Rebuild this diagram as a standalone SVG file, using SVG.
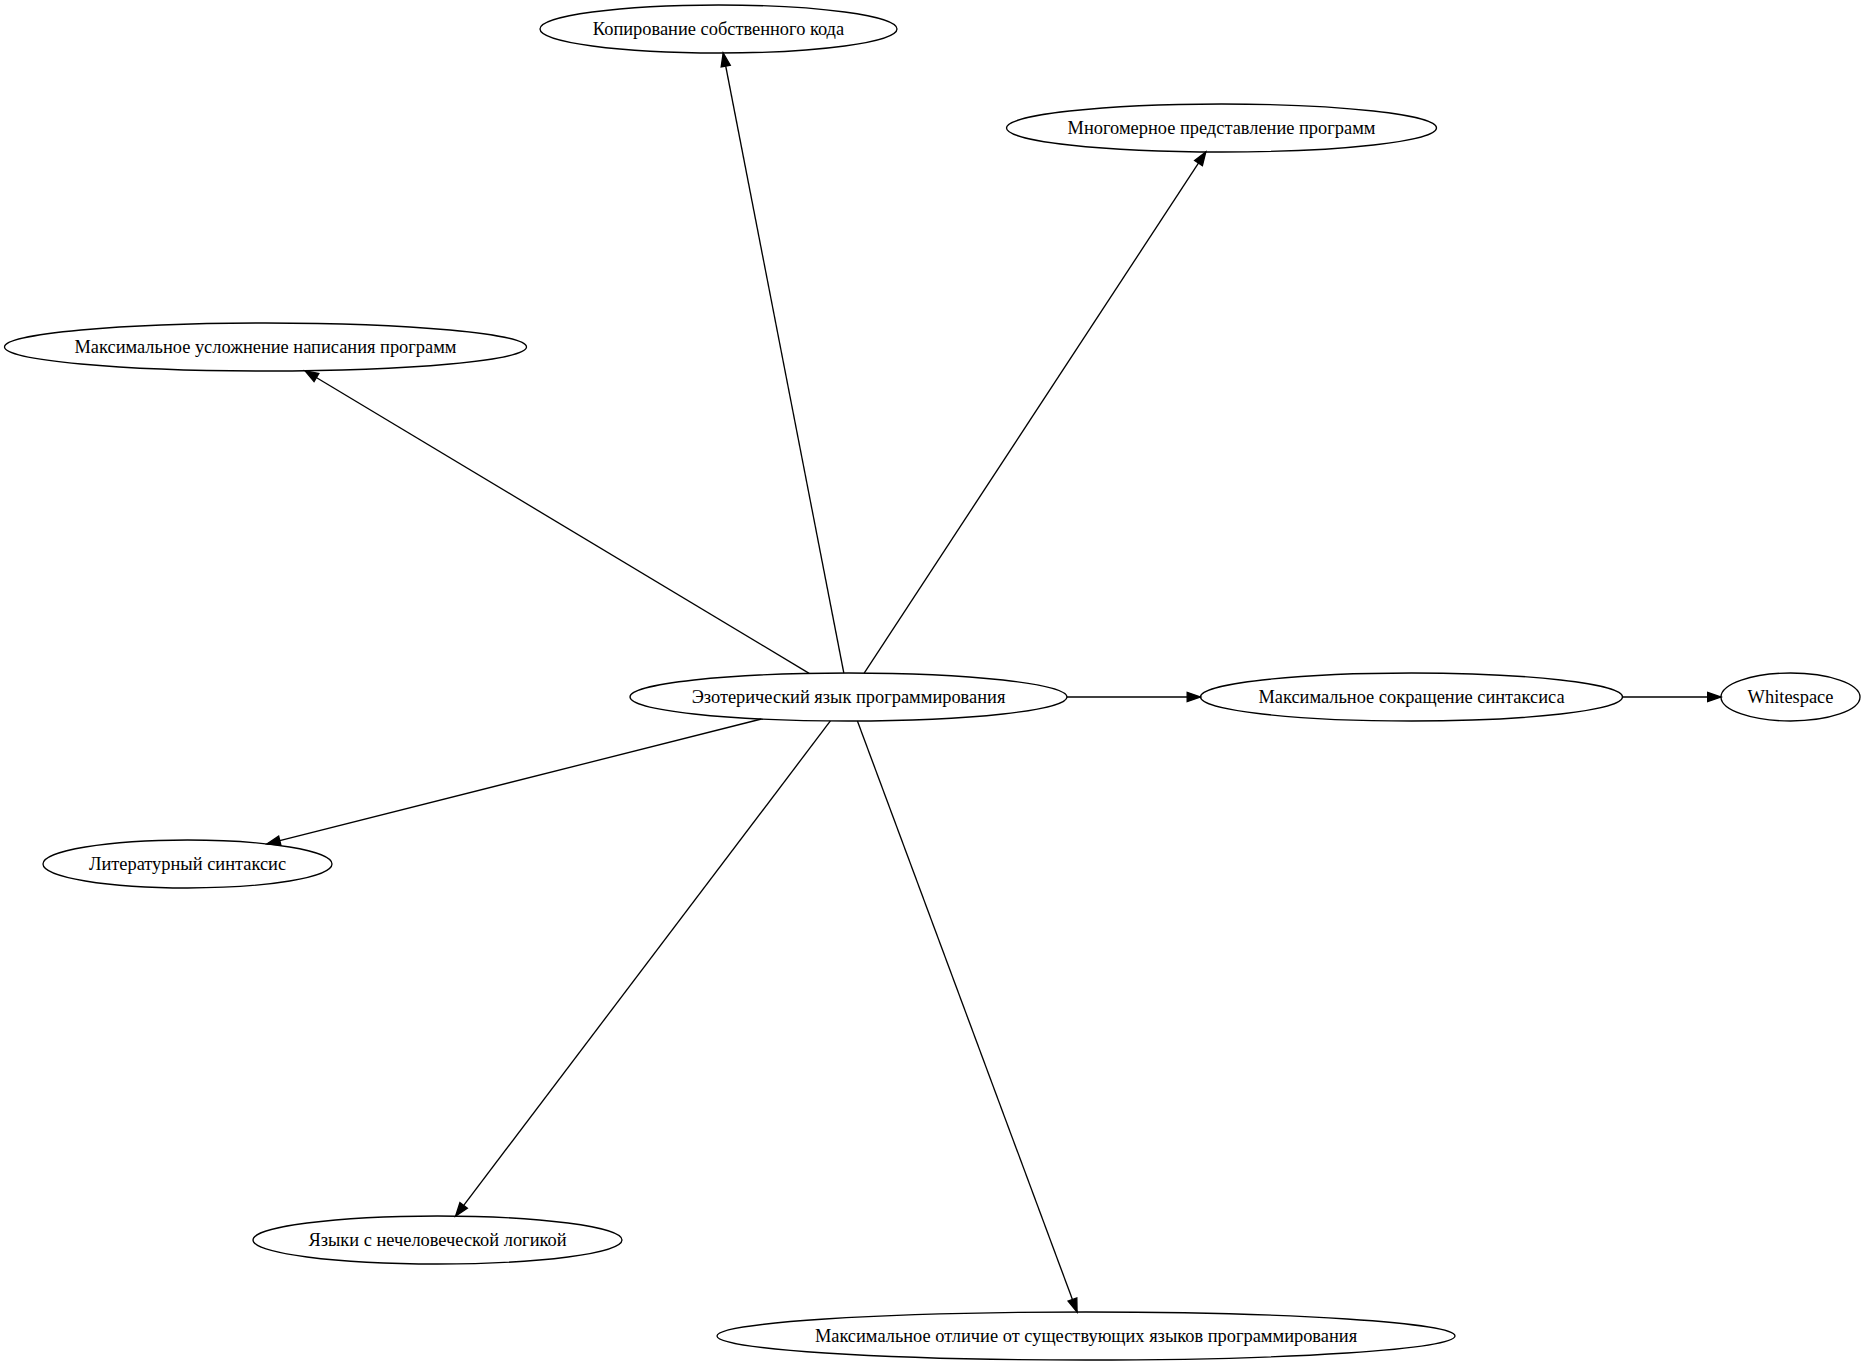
<svg xmlns="http://www.w3.org/2000/svg" width="1862" height="1366" viewBox="0 0 1862 1366">
<style>
.node ellipse{fill:none;stroke:#000;stroke-width:1.33}
.node text{font-family:"Liberation Serif","Times New Roman",serif;font-size:18.4px;text-anchor:middle;fill:#000}
.edges line{stroke:#000;stroke-width:1.33;marker-end:url(#arr)}
</style>
<defs>
<marker id="arr" markerUnits="userSpaceOnUse" markerWidth="16" markerHeight="12" refX="13.33" refY="4.67" orient="auto" overflow="visible">
<path d="M0,0 L13.33,4.67 L0,9.33 Z" fill="#000" stroke="#000" stroke-width="1.33"/>
</marker>
</defs>
<rect width="1862" height="1366" fill="#fff"/>
<g class="edges">
<line x1="843.83" y1="673.0" x2="723.17" y2="53.0"/>
<line x1="864.19" y1="673.06" x2="1205.81" y2="151.94"/>
<line x1="809.17" y1="673.39" x2="305.02" y2="370.72"/>
<line x1="1067" y1="697" x2="1200.5" y2="697"/>
<line x1="1622.5" y1="697" x2="1721" y2="697"/>
<line x1="761.38" y1="719.01" x2="266.88" y2="843.95"/>
<line x1="830.40" y1="720.92" x2="455.58" y2="1216.12"/>
<line x1="857.41" y1="720.98" x2="1077.08" y2="1312.01"/>
</g>
<g id="node-esoteric" class="node"><ellipse cx="848.5" cy="697" rx="218.5" ry="24"/><text x="848.5" y="702.5">Эзотерический язык программирования</text></g>
<g id="node-copy" class="node"><ellipse cx="718.5" cy="29" rx="178.5" ry="24"/><text x="718.5" y="34.5">Копирование собственного кода</text></g>
<g id="node-multidim" class="node"><ellipse cx="1221.5" cy="128" rx="215" ry="24"/><text x="1221.5" y="133.5">Многомерное представление программ</text></g>
<g id="node-complex" class="node"><ellipse cx="265.5" cy="347" rx="261" ry="24"/><text x="265.5" y="352.5">Максимальное усложнение написания программ</text></g>
<g id="node-short" class="node"><ellipse cx="1411.5" cy="697" rx="211" ry="24"/><text x="1411.5" y="702.5">Максимальное сокращение синтаксиса</text></g>
<g id="node-whitespace" class="node"><ellipse cx="1790.5" cy="697" rx="69.5" ry="24"/><text x="1790.5" y="702.5">Whitespace</text></g>
<g id="node-literary" class="node"><ellipse cx="187.5" cy="864" rx="144.5" ry="24"/><text x="187.5" y="869.5">Литературный синтаксис</text></g>
<g id="node-inhuman" class="node"><ellipse cx="437.5" cy="1240" rx="184.5" ry="24"/><text x="437.5" y="1245.5">Языки с нечеловеческой логикой</text></g>
<g id="node-differ" class="node"><ellipse cx="1086" cy="1336" rx="369" ry="24"/><text x="1086" y="1341.5">Максимальное отличие от существующих языков программирования</text></g>
</svg>
